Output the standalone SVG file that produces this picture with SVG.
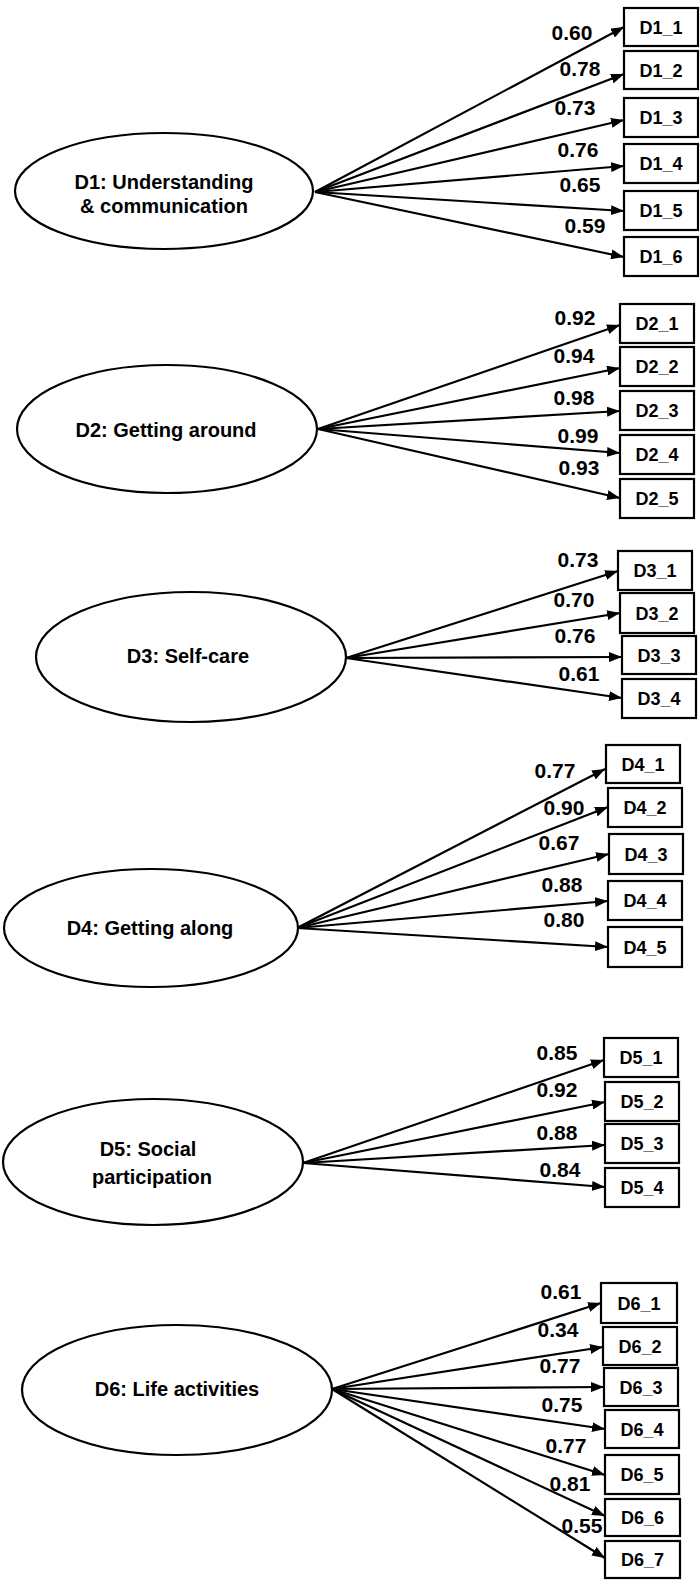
<svg xmlns="http://www.w3.org/2000/svg" width="700" height="1585" viewBox="0 0 700 1585">
<defs>
<marker id="arr" markerUnits="userSpaceOnUse" markerWidth="13" markerHeight="10" refX="13" refY="5" orient="auto">
<path d="M0,0 L13,5 L0,10 z" fill="#000"/>
</marker>
<style>
.ell{fill:#fff;stroke:#000;stroke-width:2.2}
.box{fill:#fff;stroke:#000;stroke-width:2.2}
.edge{stroke:#000;stroke-width:2.2;fill:none;marker-end:url(#arr)}
.lt{font-family:"Liberation Sans",Arial,sans-serif;font-weight:bold;font-size:20px;text-anchor:middle;fill:#000}
.bt{font-family:"Liberation Sans",Arial,sans-serif;font-weight:bold;font-size:18px;text-anchor:middle;fill:#000}
.wt{font-family:"Liberation Sans",Arial,sans-serif;font-weight:bold;font-size:21px;text-anchor:middle;fill:#000}
</style>
</defs>
<rect width="700" height="1585" fill="#fff"/>

<g id="connectors">
<!-- D1 -->
<line class="edge" x1="315" y1="192" x2="624" y2="27"/>
<line class="edge" x1="315" y1="192" x2="624" y2="74"/>
<line class="edge" x1="315" y1="192" x2="624" y2="120"/>
<line class="edge" x1="315" y1="192" x2="624" y2="166"/>
<line class="edge" x1="315" y1="192" x2="624" y2="211"/>
<line class="edge" x1="315" y1="192" x2="624" y2="257"/>
<!-- D2 -->
<line class="edge" x1="318" y1="429" x2="620" y2="325"/>
<line class="edge" x1="318" y1="429" x2="620" y2="368"/>
<line class="edge" x1="318" y1="429" x2="620" y2="411"/>
<line class="edge" x1="318" y1="429" x2="620" y2="453"/>
<line class="edge" x1="318" y1="429" x2="620" y2="498"/>
<!-- D3 -->
<line class="edge" x1="346" y1="658" x2="618" y2="571"/>
<line class="edge" x1="346" y1="658" x2="620" y2="613"/>
<line class="edge" x1="346" y1="658" x2="622" y2="657"/>
<line class="edge" x1="346" y1="658" x2="622" y2="698"/>
<!-- D4 -->
<line class="edge" x1="297" y1="928" x2="605" y2="769"/>
<line class="edge" x1="297" y1="928" x2="608" y2="807"/>
<line class="edge" x1="297" y1="928" x2="609" y2="854"/>
<line class="edge" x1="297" y1="928" x2="608" y2="901"/>
<line class="edge" x1="297" y1="928" x2="608" y2="947"/>
<!-- D5 -->
<line class="edge" x1="303" y1="1163" x2="604" y2="1060"/>
<line class="edge" x1="303" y1="1163" x2="605" y2="1102"/>
<line class="edge" x1="303" y1="1163" x2="605" y2="1145"/>
<line class="edge" x1="303" y1="1163" x2="605" y2="1187"/>
<!-- D6 -->
<line class="edge" x1="332" y1="1389" x2="601" y2="1303"/>
<line class="edge" x1="332" y1="1389" x2="603" y2="1347"/>
<line class="edge" x1="332" y1="1389" x2="604" y2="1387"/>
<line class="edge" x1="332" y1="1389" x2="605" y2="1429"/>
<line class="edge" x1="332" y1="1389" x2="605" y2="1475"/>
<line class="edge" x1="332" y1="1389" x2="605" y2="1516"/>
<line class="edge" x1="332" y1="1389" x2="605" y2="1558"/>

<g id="loadings">
<text class="wt" x="572" y="40">0.60</text>
<text class="wt" x="580" y="76">0.78</text>
<text class="wt" x="575" y="115">0.73</text>
<text class="wt" x="578" y="157">0.76</text>
<text class="wt" x="580" y="192">0.65</text>
<text class="wt" x="585" y="233">0.59</text>

<text class="wt" x="575" y="325">0.92</text>
<text class="wt" x="574" y="363">0.94</text>
<text class="wt" x="574" y="405">0.98</text>
<text class="wt" x="578" y="443">0.99</text>
<text class="wt" x="579" y="475">0.93</text>

<text class="wt" x="578" y="567">0.73</text>
<text class="wt" x="574" y="607">0.70</text>
<text class="wt" x="575" y="643">0.76</text>
<text class="wt" x="579" y="681">0.61</text>

<text class="wt" x="555" y="778">0.77</text>
<text class="wt" x="564" y="815">0.90</text>
<text class="wt" x="559" y="850">0.67</text>
<text class="wt" x="562" y="892">0.88</text>
<text class="wt" x="564" y="927">0.80</text>

<text class="wt" x="557" y="1060">0.85</text>
<text class="wt" x="557" y="1097">0.92</text>
<text class="wt" x="557" y="1140">0.88</text>
<text class="wt" x="560" y="1177">0.84</text>

<text class="wt" x="561" y="1299">0.61</text>
<text class="wt" x="558" y="1337">0.34</text>
<text class="wt" x="560" y="1373">0.77</text>
<text class="wt" x="562" y="1412">0.75</text>
<text class="wt" x="566" y="1453">0.77</text>
<text class="wt" x="570" y="1491">0.81</text>
<text class="wt" x="582" y="1533">0.55</text>
</g>
</g>

<!-- Latent factors -->
<g id="D1">
<ellipse class="ell" cx="164" cy="191" rx="149" ry="58"/>
<text class="lt" x="164" y="189">D1: Understanding</text>
<text class="lt" x="164" y="213">&amp; communication</text>
</g>
<g id="D2">
<ellipse class="ell" cx="167" cy="429" rx="150" ry="64"/>
<text class="lt" x="166" y="437">D2: Getting around</text>
</g>
<g id="D3">
<ellipse class="ell" cx="191" cy="657" rx="155" ry="65"/>
<text class="lt" x="188" y="663">D3: Self-care</text>
</g>
<g id="D4">
<ellipse class="ell" cx="151" cy="928" rx="147" ry="59"/>
<text class="lt" x="150" y="935">D4: Getting along</text>
</g>
<g id="D5">
<ellipse class="ell" cx="153" cy="1162" rx="150" ry="63"/>
<text class="lt" x="148" y="1156">D5: Social</text>
<text class="lt" x="152" y="1184">participation</text>
</g>
<g id="D6">
<ellipse class="ell" cx="177" cy="1390" rx="155" ry="65"/>
<text class="lt" x="177" y="1396">D6: Life activities</text>
</g>

<!-- Indicators -->
<g id="D1_1"><rect class="box" x="624" y="8" width="74" height="38"/><text class="bt" x="661" y="33.5">D1_1</text></g>
<g id="D1_2"><rect class="box" x="624" y="51" width="74" height="38"/><text class="bt" x="661" y="76.5">D1_2</text></g>
<g id="D1_3"><rect class="box" x="624" y="98" width="74" height="39"/><text class="bt" x="661" y="124">D1_3</text></g>
<g id="D1_4"><rect class="box" x="624" y="144" width="74" height="39"/><text class="bt" x="661" y="170">D1_4</text></g>
<g id="D1_5"><rect class="box" x="624" y="191" width="74" height="39"/><text class="bt" x="661" y="217">D1_5</text></g>
<g id="D1_6"><rect class="box" x="624" y="237" width="74" height="39"/><text class="bt" x="661" y="263">D1_6</text></g>

<g id="D2_1"><rect class="box" x="620" y="304" width="74" height="39"/><text class="bt" x="657" y="330">D2_1</text></g>
<g id="D2_2"><rect class="box" x="620" y="347" width="74" height="39"/><text class="bt" x="657" y="373">D2_2</text></g>
<g id="D2_3"><rect class="box" x="620" y="391" width="74" height="39"/><text class="bt" x="657" y="417">D2_3</text></g>
<g id="D2_4"><rect class="box" x="620" y="435" width="74" height="39"/><text class="bt" x="657" y="461">D2_4</text></g>
<g id="D2_5"><rect class="box" x="620" y="479" width="74" height="39"/><text class="bt" x="657" y="505">D2_5</text></g>

<g id="D3_1"><rect class="box" x="618" y="551" width="74" height="39"/><text class="bt" x="655" y="577">D3_1</text></g>
<g id="D3_2"><rect class="box" x="620" y="593" width="74" height="40"/><text class="bt" x="657" y="619.5">D3_2</text></g>
<g id="D3_3"><rect class="box" x="622" y="636" width="74" height="38"/><text class="bt" x="659" y="661.5">D3_3</text></g>
<g id="D3_4"><rect class="box" x="622" y="679" width="74" height="39"/><text class="bt" x="659" y="705">D3_4</text></g>

<g id="D4_1"><rect class="box" x="606" y="745" width="74" height="38"/><text class="bt" x="643" y="770.5">D4_1</text></g>
<g id="D4_2"><rect class="box" x="608" y="788" width="74" height="39"/><text class="bt" x="645" y="814">D4_2</text></g>
<g id="D4_3"><rect class="box" x="609" y="834" width="74" height="40"/><text class="bt" x="646" y="860.5">D4_3</text></g>
<g id="D4_4"><rect class="box" x="608" y="881" width="74" height="39"/><text class="bt" x="645" y="907">D4_4</text></g>
<g id="D4_5"><rect class="box" x="608" y="927" width="74" height="40"/><text class="bt" x="645" y="953.5">D4_5</text></g>

<g id="D5_1"><rect class="box" x="604" y="1038" width="74" height="39"/><text class="bt" x="641" y="1064">D5_1</text></g>
<g id="D5_2"><rect class="box" x="605" y="1082" width="74" height="39"/><text class="bt" x="642" y="1108">D5_2</text></g>
<g id="D5_3"><rect class="box" x="605" y="1124" width="74" height="39"/><text class="bt" x="642" y="1150">D5_3</text></g>
<g id="D5_4"><rect class="box" x="605" y="1168" width="74" height="39"/><text class="bt" x="642" y="1194">D5_4</text></g>

<g id="D6_1"><rect class="box" x="601" y="1283" width="76" height="40"/><text class="bt" x="639" y="1309.5">D6_1</text></g>
<g id="D6_2"><rect class="box" x="603" y="1327" width="74" height="38"/><text class="bt" x="640" y="1352.5">D6_2</text></g>
<g id="D6_3"><rect class="box" x="604" y="1368" width="74" height="38"/><text class="bt" x="641" y="1393.5">D6_3</text></g>
<g id="D6_4"><rect class="box" x="605" y="1410" width="74" height="38"/><text class="bt" x="642" y="1435.5">D6_4</text></g>
<g id="D6_5"><rect class="box" x="605" y="1455" width="74" height="39"/><text class="bt" x="642" y="1481">D6_5</text></g>
<g id="D6_6"><rect class="box" x="605" y="1499" width="75" height="37"/><text class="bt" x="642.5" y="1524">D6_6</text></g>
<g id="D6_7"><rect class="box" x="605" y="1541" width="75" height="37"/><text class="bt" x="642.5" y="1566">D6_7</text></g>
</svg>
